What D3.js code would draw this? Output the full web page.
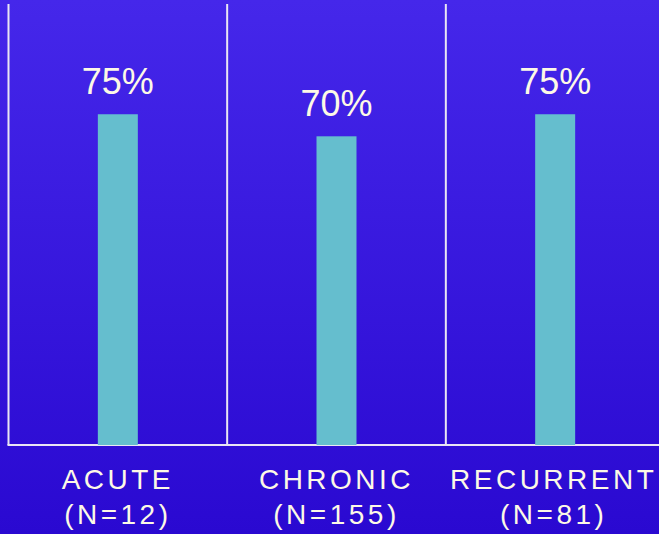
<!DOCTYPE html>
<html>
<head>
<meta charset="utf-8">
<script src="https://cdn.jsdelivr.net/npm/d3@7"></script>
<style>
  html, body { margin: 0; padding: 0; background: #3a1ae4; }
  svg { display: block; }
</style>
</head>
<body>
<svg id="chart" width="659" height="534"></svg>
<script>
// Response rate by episode type
const categories = ["ACUTE", "CHRONIC", "RECURRENT"];
const sampleSizes = ["(N=12)", "(N=155)", "(N=81)"];
const values = [75, 70, 75];
const valueLabels = ["75%", "70%", "75%"];

const W = 659, H = 534;
const svg = d3.select("#chart");

// Background gradient
const defs = svg.append("defs");
const grad = defs.append("linearGradient")
  .attr("id", "bg").attr("x1", 0).attr("y1", 0).attr("x2", 0).attr("y2", 1);
grad.append("stop").attr("offset", "0%").attr("stop-color", "#4527ea");
grad.append("stop").attr("offset", "100%").attr("stop-color", "#2a09d1");
svg.append("rect").attr("width", W).attr("height", H).attr("fill", "url(#bg)");

const x = d3.scaleBand().domain(categories).range([8.5, 664.5]).padding(0);
const y = d3.scaleLinear().domain([0, 100]).range([445, 4]);

const barW = 40;
const textColor = "#fdf9e6";
const lineColor = "#e9e6f4";

// Category separators
svg.append("g").selectAll("line")
  .data(categories)
  .join("line")
  .attr("x1", d => x(d)).attr("x2", d => x(d))
  .attr("y1", y(100)).attr("y2", y(0))
  .attr("stroke", lineColor).attr("stroke-width", 2);

// Baseline
svg.append("line")
  .attr("x1", x.range()[0] - 1).attr("x2", W)
  .attr("y1", y(0)).attr("y2", y(0))
  .attr("stroke", lineColor).attr("stroke-width", 2);

// Bars
svg.append("g").selectAll("rect")
  .data(values)
  .join("rect")
  .attr("x", (d, i) => x(categories[i]) + x.bandwidth() / 2 - barW / 2)
  .attr("y", d => y(d))
  .attr("width", barW)
  .attr("height", d => y(0) - y(d))
  .attr("fill", "#65bece");

// Value labels
svg.append("g").selectAll("text")
  .data(values)
  .join("text")
  .attr("x", (d, i) => x(categories[i]) + x.bandwidth() / 2)
  .attr("y", d => y(d) - 20)
  .attr("text-anchor", "middle")
  .attr("font-family", "Liberation Sans, Arial, sans-serif")
  .attr("font-size", 36)
  .attr("fill", textColor)
  .text((d, i) => valueLabels[i]);

// Category labels
const cat = svg.append("g").selectAll("g")
  .data(categories)
  .join("g")
  .attr("transform", (d, i) => `translate(${x(d) + x.bandwidth() / 2 + (i === 2 ? -1.5 : 0)},0)`);

cat.append("text")
  .attr("y", 489)
  .attr("text-anchor", "middle")
  .attr("font-family", "Liberation Sans, Arial, sans-serif")
  .attr("font-size", 28)
  .attr("letter-spacing", 3.5)
  .attr("fill", textColor)
  .text(d => d);

cat.append("text")
  .attr("y", 524)
  .attr("text-anchor", "middle")
  .attr("font-family", "Liberation Sans, Arial, sans-serif")
  .attr("font-size", 28)
  .attr("letter-spacing", 3.5)
  .attr("fill", textColor)
  .text((d, i) => sampleSizes[i]);
</script>
</body>
</html>
